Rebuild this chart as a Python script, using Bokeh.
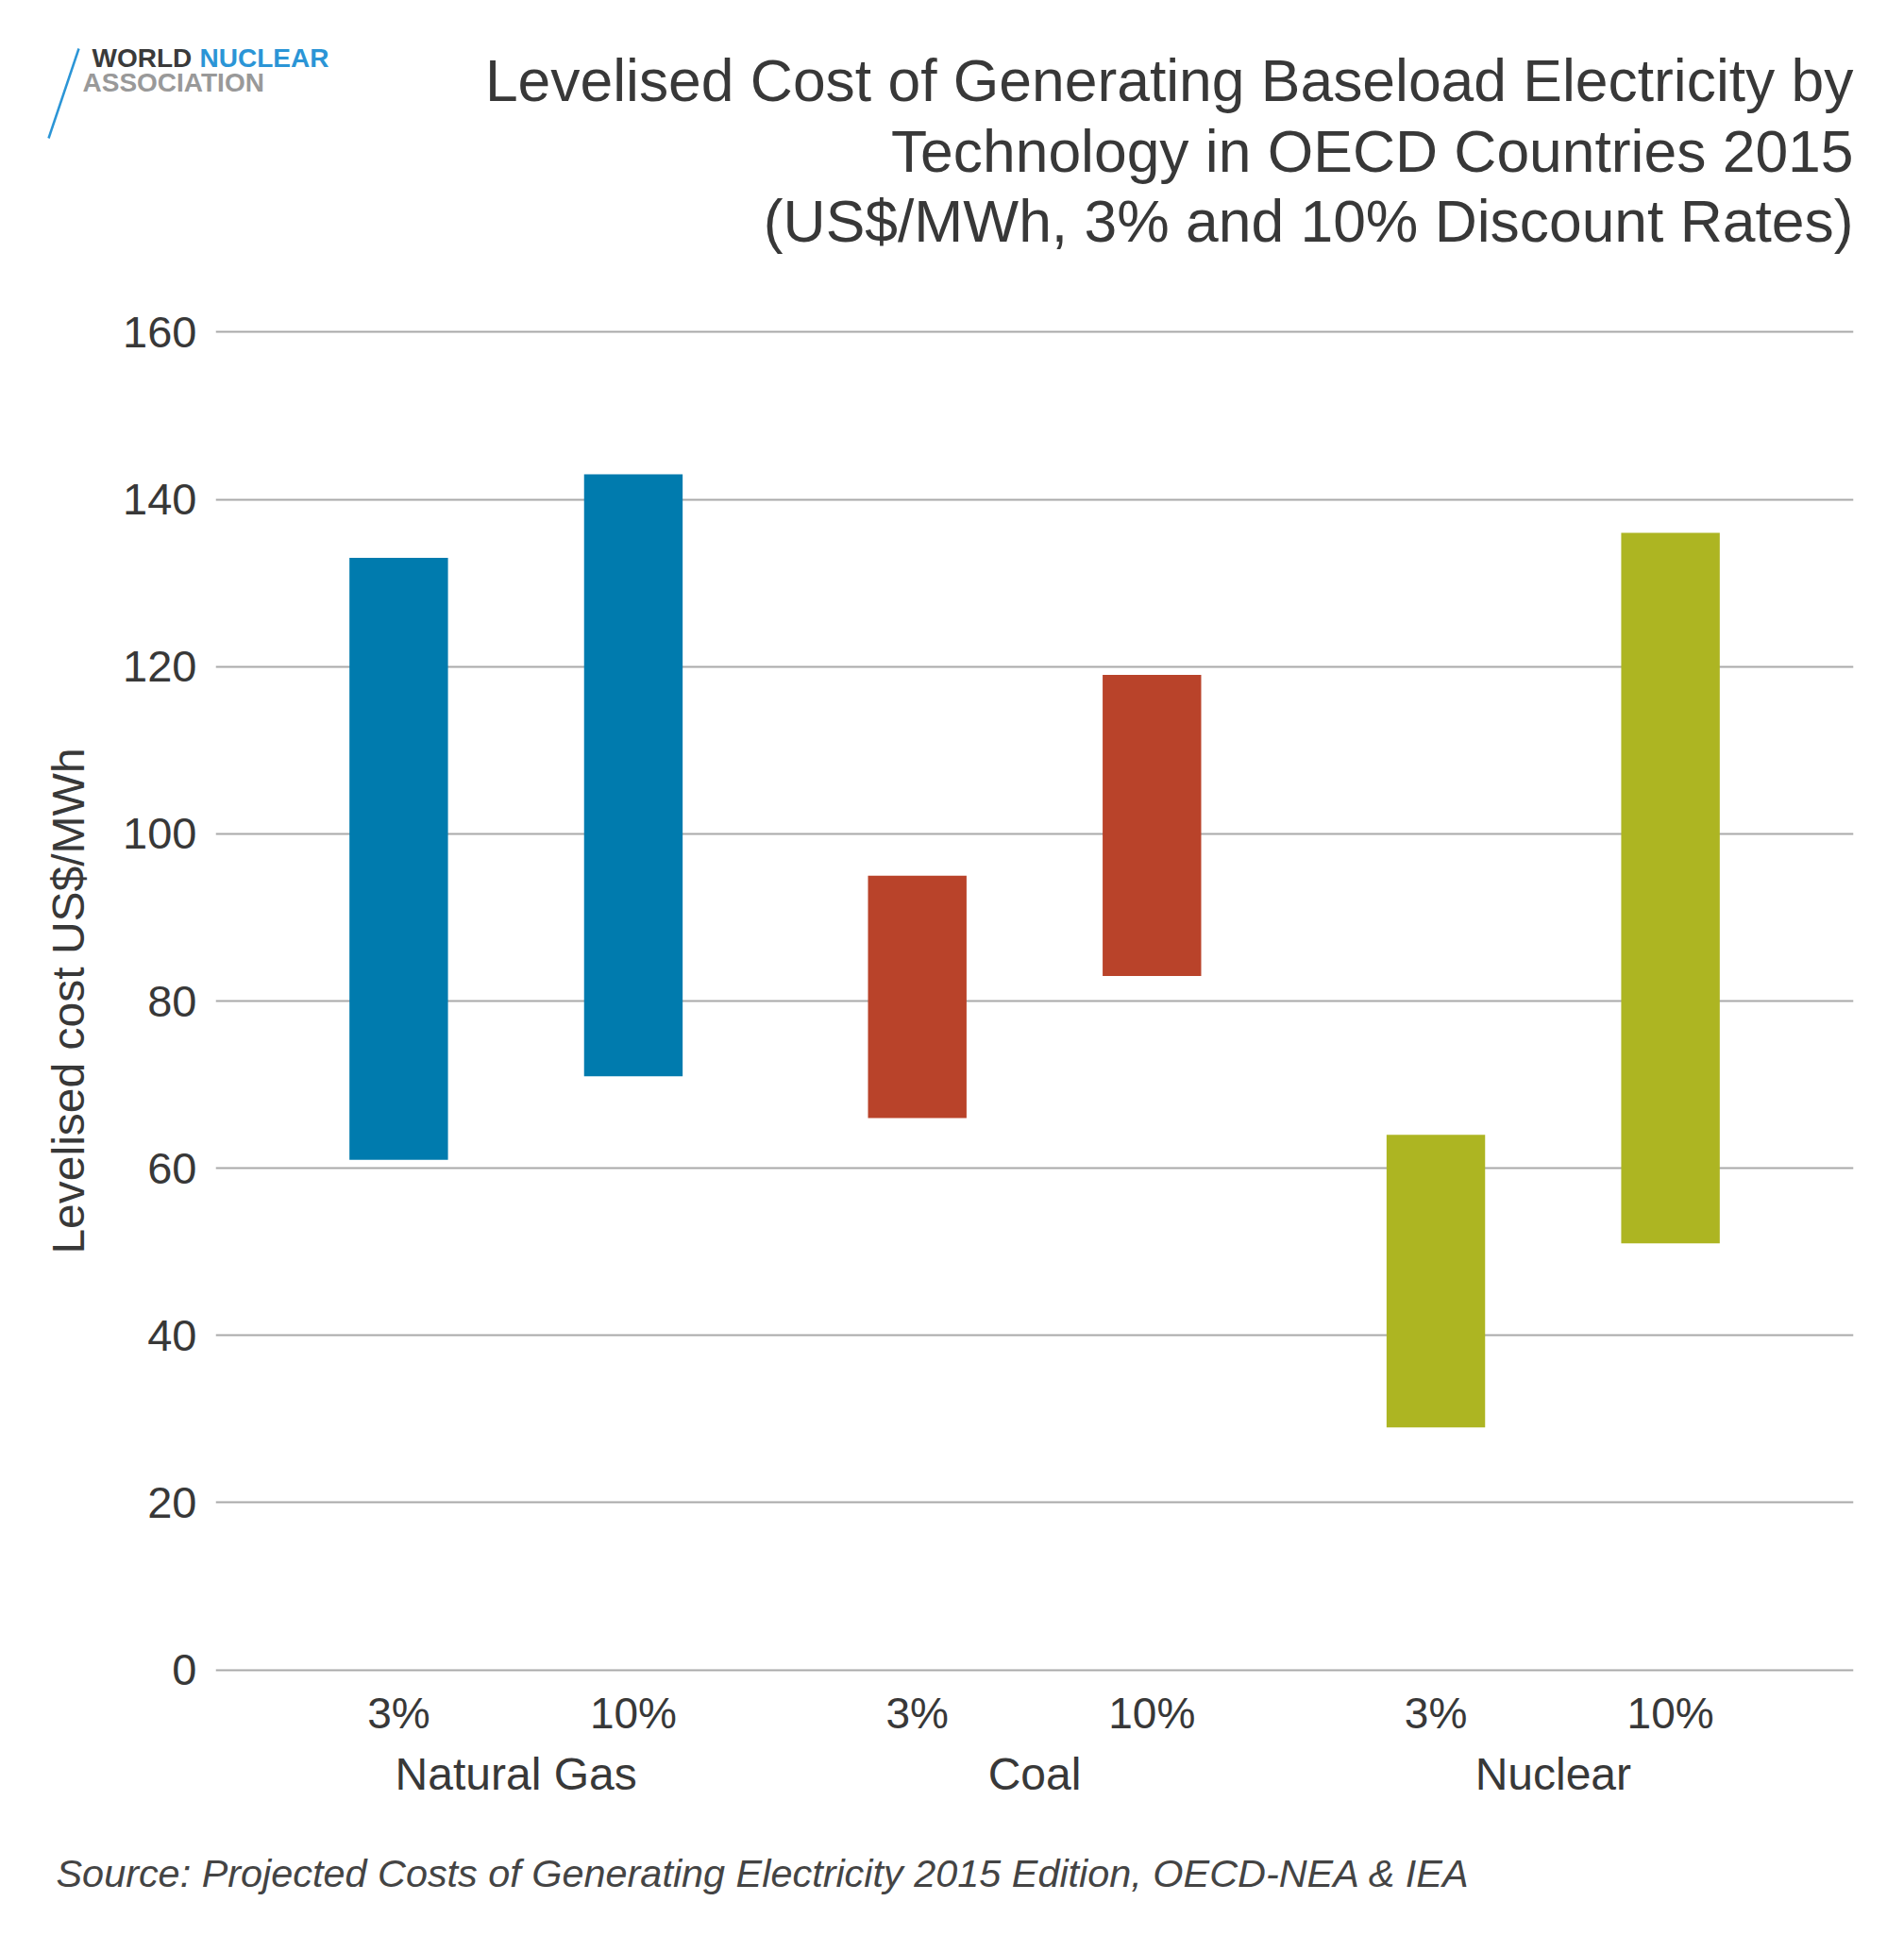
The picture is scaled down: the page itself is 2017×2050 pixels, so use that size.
from bokeh.plotting import figure
from bokeh.layouts import column
from bokeh.models import FactorRange, Range1d, FixedTicker
from bokeh.core.properties import value
from bokeh.embed import file_html
from bokeh.resources import INLINE

# Levelised cost ranges (US$/MWh) by technology and discount rate
technologies = ["Natural Gas", "Coal", "Nuclear"]
rates = ["3%", "10%"]
cost_low = [61, 71, 66, 83, 29, 51]
cost_high = [133, 143, 95, 119, 64, 136]
tech_colors = ["#007BAE", "#B9432A", "#ADB522"]
y_ticks = [0, 20, 40, 60, 80, 100, 120, 140, 160]

title_lines = [
    "Levelised Cost of Generating Baseload Electricity by",
    "Technology in OECD Countries 2015",
    "(US$/MWh, 3% and 10% Discount Rates)",
]
source_text = "Source: Projected Costs of Generating Electricity 2015 Edition, OECD-NEA & IEA"
y_label = "Levelised cost US$/MWh"

FONT = "Liberation Sans"
TEXT = "#383838"

W = 2017
HEAD_H = 300          # header band (logo + title)
FOOT_H = 107          # footer band (source)
TOP_B = 47            # room above the frame for the top tick label
FRAME_H = 1426        # height of the plotting frame
AXIS_B = 170          # space below the frame for the category axis
FL, FR = 228, 54      # left / right borders of the chart


def blank(height, y_top):
    """A figure without axes whose data space is pixel space, y growing down."""
    f = figure(width=W, height=height, x_range=Range1d(0, W),
               y_range=Range1d(y_top + height, y_top),
               x_axis_location=None, y_axis_location=None,
               output_backend="svg", toolbar_location=None,
               min_border=0, min_border_left=0, min_border_right=0,
               min_border_top=0, min_border_bottom=0)
    f.grid.visible = False
    f.outline_line_color = None
    f.background_fill_color = "white"
    f.border_fill_color = "white"
    if "frame_align" in f.properties():
        f.frame_align = False
    return f


# ---- header: logo and title ----
head = blank(HEAD_H, 0)
head.line(x=[83, 51], y=[51, 146], line_color="#2B95D6", line_width=2.5)
head.text(x=[97, 211, 87], y=[61, 61, 87], text=["WORLD", "NUCLEAR", "ASSOCIATION"],
          text_color=["#3a3a3a", "#2B95D6", "#999999"], text_font=value(FONT),
          text_font_size="28px", text_font_style="bold",
          text_align="left", text_baseline="alphabetic")
head.text(x=[1963] * 3, y=[85, 160, 234], text=title_lines,
          text_color=TEXT, text_font=value(FONT), text_font_size="62.4px",
          text_align="right", text_baseline="alphabetic")

# ---- chart ----
factors = [(t, r) for t in technologies for r in rates]
bar_colors = [tech_colors[i // len(rates)] for i in range(len(factors))]

x_range = FactorRange(*factors, factor_padding=0.0, group_padding=0.21,
                      range_padding=0.28, range_padding_units="absolute")

p = figure(width=W, height=TOP_B + FRAME_H + AXIS_B, x_range=x_range,
           y_range=Range1d(-0.5, 160.5),
           output_backend="svg", toolbar_location=None,
           min_border_left=FL, min_border_right=FR,
           min_border_top=TOP_B, min_border_bottom=AXIS_B)
p.outline_line_color = None
p.background_fill_color = "white"
p.border_fill_color = "white"

p.vbar(x=factors, bottom=cost_low, top=cost_high, width=0.42,
       color=bar_colors, line_color=None)

p.xgrid.grid_line_color = None
p.ygrid.grid_line_color = "#a9a9a9"
p.ygrid.grid_line_width = 2

p.yaxis.ticker = FixedTicker(ticks=y_ticks)
p.yaxis.axis_line_color = None
p.yaxis.major_tick_line_color = None
p.yaxis.minor_tick_line_color = None
p.yaxis.major_label_standoff = 14
p.yaxis.major_label_text_font = FONT
p.yaxis.major_label_text_font_size = "47px"
p.yaxis.major_label_text_color = TEXT
p.yaxis.axis_label = y_label
p.yaxis.axis_label_text_font = FONT
p.yaxis.axis_label_text_font_style = "normal"
p.yaxis.axis_label_text_font_size = "48px"
p.yaxis.axis_label_text_color = TEXT
p.yaxis.axis_label_standoff = 28

p.xaxis.axis_line_color = None
p.xaxis.major_tick_line_color = None
p.xaxis.minor_tick_line_color = None
p.xaxis.separator_line_color = None
p.xaxis.major_label_standoff = 9
p.xaxis.major_label_text_font = FONT
p.xaxis.major_label_text_font_size = "46px"
p.xaxis.major_label_text_color = TEXT
p.xaxis.group_text_font = FONT
p.xaxis.group_text_font_size = "48px"
p.xaxis.group_text_font_style = "normal"
p.xaxis.group_text_color = TEXT

# ---- footer: source note ----
foot_top = HEAD_H + TOP_B + FRAME_H + AXIS_B
foot = blank(FOOT_H, foot_top)
foot.text(x=[59], y=[1984], text=[source_text], text_color="#444444",
          text_font=value(FONT), text_font_size="41.4px", text_font_style="italic",
          text_align="left", text_baseline="alphabetic")

layout = column(head, p, foot, spacing=0)
open("out.html", "w").write(file_html(layout, INLINE))
